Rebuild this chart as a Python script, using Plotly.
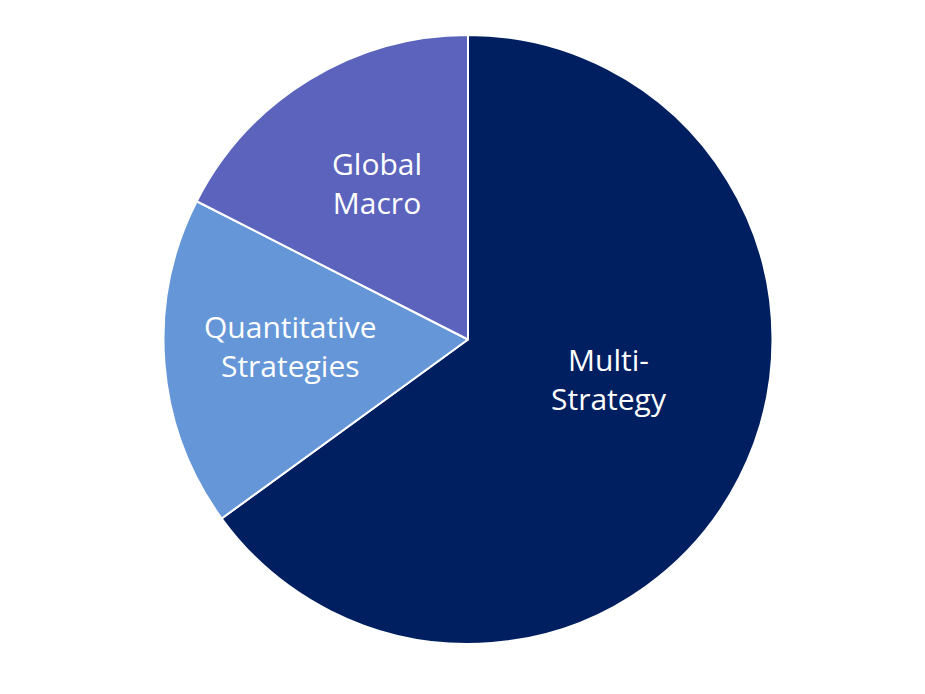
import plotly.graph_objects as go

# slice data (clockwise from 12 o'clock)
labels = ["Multi-Strategy", "Quantitative Strategies", "Global Macro"]
shares = [65.0, 17.5, 17.5]
label_text = ["Multi-<br>Strategy", "Quantitative<br>Strategies", "Global<br>Macro"]
colors = ["#001F61", "#6496D8", "#5B63BD"]

# where each label sits, in paper units
label_pos = [(0.6497, 0.4654), (0.3059, 0.5130), (0.3984, 0.7478)]

fig = go.Figure(
    go.Pie(
        labels=labels,
        values=shares,
        sort=False,
        direction="clockwise",
        rotation=0,
        textinfo="none",
        hoverinfo="label+percent",
        marker=dict(colors=colors, line=dict(color="white", width=2)),
        domain=dict(x=[0.1681, 0.8265], y=[0.0836, 0.9611]),
        showlegend=False,
    )
)

for txt, (px_, py_) in zip(label_text, label_pos):
    fig.add_annotation(
        x=px_, y=py_, xref="paper", yref="paper",
        text=txt, showarrow=False,
        xanchor="center", yanchor="middle",
        font=dict(family="Open Sans", size=30, color="white"),
    )

fig.update_layout(
    width=925,
    height=694,
    margin=dict(l=0, r=0, t=0, b=0),
    paper_bgcolor="white",
    plot_bgcolor="white",
)

fig.write_html("out.html")
